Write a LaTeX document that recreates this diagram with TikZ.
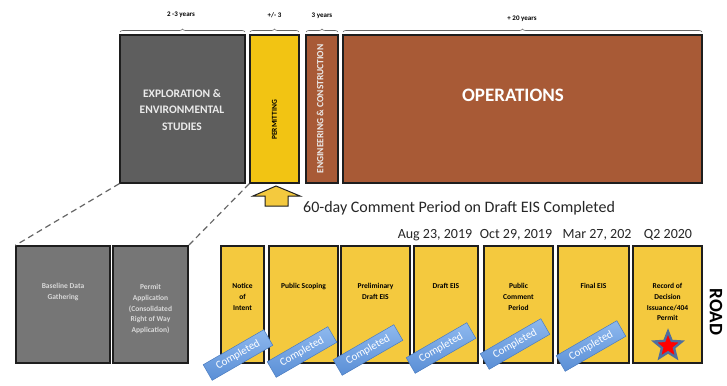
\documentclass[tikz,border=0pt]{standalone}
\usepackage{fontspec}
\setmainfont{Carlito}
\usetikzlibrary{shapes.geometric,decorations.pathreplacing}
\definecolor{expgrey}{HTML}{5E5E5E}
\definecolor{lowgrey}{HTML}{767676}
\definecolor{permyel}{HTML}{F2C413}
\definecolor{lowyel}{HTML}{F4C93E}
\definecolor{rust}{HTML}{A85A36}
\definecolor{edge}{HTML}{1E1E1E}
\definecolor{bluetop}{HTML}{8DB8EE}
\definecolor{bluebot}{HTML}{5B8FD6}
\definecolor{blueedge}{HTML}{4A7CC0}
\definecolor{starblue}{HTML}{4F6E9E}
\tikzset{
  box/.style={draw=edge, line width=1.3pt, inner sep=0pt, minimum height=#1},
  topbox/.style={box=148pt},
  lowbox/.style={box=117pt},
  btext/.style={font=\fontsize{7.5}{10.8}\selectfont\bfseries, align=center, anchor=north, inner sep=0pt},
  yrs/.style={font=\fontsize{7}{7}\selectfont\bfseries, inner sep=0pt},
  brc/.style={decorate, decoration={brace, amplitude=3pt}, draw=black!60, line width=0.6pt},
  done/.style={rotate=30, top color=bluetop, bottom color=bluebot, draw=blueedge, line width=0.5pt,
    minimum width=70pt, minimum height=18pt, inner sep=0pt, text=white,
    font=\fontsize{11}{11}\selectfont},
  datetxt/.style={font=\fontsize{14}{14}\selectfont, text=black!85, inner sep=0pt},
  dashln/.style={draw=black!60, dashed, dash pattern=on 6pt off 4pt, line width=1.2pt}
}
\begin{document}
\begin{tikzpicture}[x=1pt,y=-1pt]
\useasboundingbox[fill=white] (0,0) rectangle (727,385);
% top boxes
\node[topbox, fill=expgrey, minimum width=125pt] (expl) at (182.5,109) {};
\node[topbox, fill=permyel, minimum width=49pt] (perm) at (274.5,109) {};
\node[topbox, fill=rust, minimum width=32pt] (eng) at (322,109) {};
\node[topbox, fill=rust, minimum width=359pt] (ops) at (522.5,109) {};
\node[font=\fontsize{11.5}{16.5}\selectfont\bfseries, text=white!92!black, align=center] (explt) at (182,110) {EXPLORATION \&\\ENVIRONMENTAL\\STUDIES};
\node[font=\fontsize{7.5}{7.5}\selectfont\bfseries, rotate=90] (permt) at (274.5,120) {PERMITTING};
\node[font=\fontsize{9.5}{9.5}\selectfont\bfseries, text=white!92!black, rotate=90] (engt) at (320,109) {ENGINEERING \& CONSTRUCTION};
\node[font=\fontsize{19}{19}\selectfont\bfseries, text=white] (opst) at (513,95) {OPERATIONS};
% braces
\draw[brc] (120,32) -- (245,32);
\draw[brc] (250,32) -- (299,32);
\draw[brc] (306,32) -- (338,32);
\draw[brc] (343,32) -- (702,32);
\node[yrs] (y1) at (181,15) {2 -3 years};
\node[yrs] (y2) at (274.5,15) {+/- 3};
\node[yrs] (y3) at (322,16) {3 years};
\node[yrs] (y4) at (522,19) {+ 20 years};
% arrow
\draw[fill=lowyel, draw=edge, line width=1pt, line join=miter]
  (276,186) -- (300,196) -- (288,196) -- (288,206) -- (265,206) -- (265,196) -- (253,196) -- cycle;
\node[font=\fontsize{16}{16}\selectfont, text=black!85, anchor=west, inner sep=0pt] (cmt) at (303,208) {60-day Comment Period on Draft EIS Completed};
% dates
\node[datetxt] (d1) at (435,235) {Aug 23, 2019};
\node[datetxt] (d2) at (516,235) {Oct 29, 2019};
\node[datetxt] (d3) at (597,235) {Mar 27, 202};
\node[datetxt] (d4) at (668,235) {Q2 2020};
% bottom boxes
\node[lowbox, fill=lowgrey, minimum width=94pt] (base) at (63,304.5) {};
\node[lowbox, fill=lowgrey, minimum width=75pt] (papp) at (150.5,304.5) {};
\node[lowbox, fill=lowyel, minimum width=43pt] (noi) at (242.5,304.5) {};
\node[lowbox, fill=lowyel, minimum width=69pt] (ps) at (303.5,304.5) {};
\node[lowbox, fill=lowyel, minimum width=69pt] (pde) at (375.5,304.5) {};
\node[lowbox, fill=lowyel, minimum width=64pt] (deis) at (446,304.5) {};
\node[lowbox, fill=lowyel, minimum width=69pt] (pcp) at (518.5,304.5) {};
\node[lowbox, fill=lowyel, minimum width=71pt] (feis) at (593.5,304.5) {};
\node[lowbox, fill=lowyel, minimum width=69pt] (rod) at (667.5,304.5) {};
\node[btext, text=white!85!black] (baset) at (63,283) {Baseline Data\\Gathering};
\node[btext, text=white!85!black] (guide) at (150.5,284) {Permit\\Application\\(Consolidated\\Right of Way\\Application)};
\node[btext] (noit) at (242.5,283) {Notice\\of\\Intent};
\node[btext] (pst) at (303.5,283) {Public Scoping};
\node[btext] (pdet) at (375.5,283) {Preliminary\\Draft EIS};
\node[btext] (deist) at (446,283) {Draft EIS};
\node[btext] (pcpt) at (518.5,283) {Public\\Comment\\Period};
\node[btext] (feist) at (593.5,283) {Final EIS};
\node[btext] (rodt) at (667.5,283) {Record of\\Decision\\Issuance/404\\Permit};
% dashed connectors
\draw[dashln] (expl.south west) -- (base.north west);
\draw[dashln] (perm.south west) -- (papp.north east);
% completed tags
\node[done] (c1) at (238,355) {Completed};
\node[done] (c2) at (302,352) {Completed};
\node[done] (c3) at (368,350) {Completed};
\node[done] (c4) at (441,348) {Completed};
\node[done] (c5) at (515,344) {Completed};
\node[done] (c6) at (591,346) {Completed};
% star
\node[star, star points=5, star point ratio=2.3, minimum size=29pt, inner sep=0pt, fill=red, draw=starblue, line width=2.4pt] (st) at (668,346) {};
% road
\node[font=\fontsize{19}{19}\selectfont\bfseries, rotate=-90] (road) at (716,312) {ROAD};
\end{tikzpicture}
\end{document}
